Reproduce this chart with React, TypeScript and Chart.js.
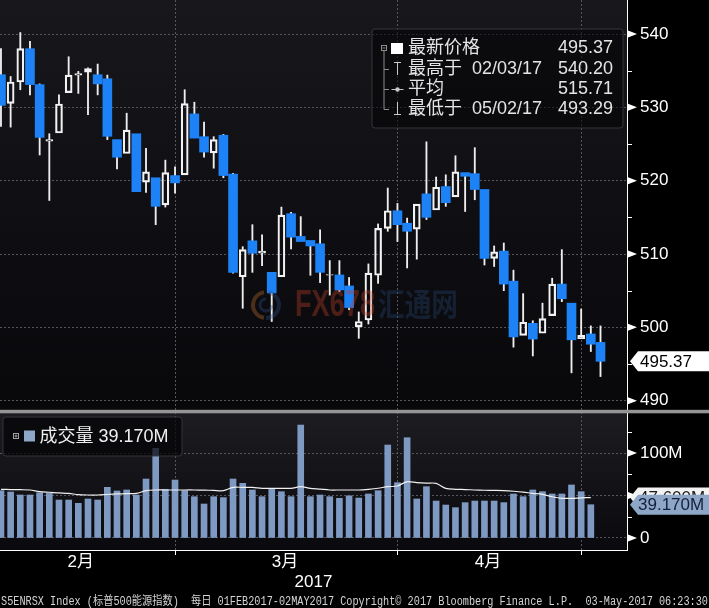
import React, { useEffect, useRef } from 'react';
import { Chart, registerables } from 'chart.js';

Chart.register(...registerables);

// ---------------- data ----------------
const dates = [
  '02/01', '02/02', '02/03', '02/06', '02/07', '02/08', '02/09', '02/10', '02/13', '02/14',
  '02/15', '02/16', '02/17', '02/21', '02/22', '02/23', '02/24', '02/27', '02/28',
  '03/01', '03/02', '03/03', '03/06', '03/07', '03/08', '03/09', '03/10', '03/13', '03/14',
  '03/15', '03/16', '03/17', '03/20', '03/21', '03/22', '03/23', '03/24', '03/27', '03/28',
  '03/29', '03/30', '03/31',
  '04/03', '04/04', '04/05', '04/06', '04/07', '04/10', '04/11', '04/12', '04/13', '04/17',
  '04/18', '04/19', '04/20', '04/21', '04/24', '04/25', '04/26', '04/27', '04/28',
  '05/01', '05/02',
];

const opens = [
  534.45, 530.55, 533.45, 538.0, 533.1, 525.4, 526.5, 532.0, 534.4, 534.8,
  534.45, 533.9, 525.6, 523.7, 526.4, 519.8, 520.4, 516.7, 520.7,
  520.8, 529.1, 526.0, 523.8, 526.2, 520.9, 506.9, 511.8, 510.1, 507.5,
  506.9, 515.5, 512.4, 511.85, 511.4, 507.1, 507.15, 505.65, 500.1, 501.0,
  507.1, 513.5, 515.9,
  514.2, 513.4, 518.2, 516.0, 519.2, 517.8, 521.1, 520.96, 518.8, 509.4,
  510.4, 506.3, 498.9, 500.55, 499.2, 501.6, 505.9, 503.3, 498.45,
  499.1, 497.95,
];
const highs = [
  538.0, 534.2, 540.2, 539.0, 533.2, 526.4, 531.7, 536.9, 534.9, 535.4,
  535.9, 534.4, 525.6, 529.2, 526.4, 524.4, 520.4, 522.8, 521.9,
  532.4, 530.7, 528.0, 526.0, 526.3, 521.0, 511.0, 514.0, 512.6, 507.5,
  516.4, 515.7, 515.1, 511.9, 513.3, 509.1, 509.1, 506.8, 502.1, 508.65,
  514.1, 519.0, 516.9,
  514.9, 516.8, 525.3, 520.5, 520.8, 523.4, 521.1, 524.5, 518.8, 511.1,
  511.5, 507.8, 504.6, 500.9, 503.3, 506.7, 510.6, 503.3, 502.5,
  500.2, 500.2,
];
const lows = [
  527.4, 527.3, 532.4, 531.7, 523.5, 517.3, 526.5, 532.0, 531.9, 529.0,
  531.7, 525.6, 521.6, 523.7, 518.5, 518.4, 514.0, 516.4, 518.3,
  520.8, 525.8, 523.2, 521.7, 520.4, 507.4, 502.6, 507.5, 508.4, 500.8,
  506.9, 510.7, 511.7, 507.1, 506.1, 504.4, 504.9, 502.4, 498.5, 500.45,
  506.0, 513.1, 511.7,
  508.1, 509.3, 514.7, 516.0, 516.5, 517.8, 515.8, 517.4, 508.5, 508.3,
  505.0, 497.3, 498.9, 496.1, 499.2, 501.6, 503.5, 493.8, 498.45,
  496.7, 493.29,
];
const closes = [
  530.27, 533.45, 538.0, 533.1, 525.9, 525.6, 530.45, 534.4, 534.6, 535.3,
  533.2, 526.05, 523.2, 526.9, 518.5, 521.2, 516.5, 521.1, 519.7,
  530.5, 525.8, 523.9, 525.6, 520.7, 507.5, 510.6, 510.1, 510.4, 504.7,
  515.3, 512.3, 511.7, 511.1, 507.5, 507.2, 505.1, 502.7, 500.8, 507.4,
  513.5, 515.9, 514.0,
  513.1, 516.8, 515.0, 519.1, 517.0, 521.2, 520.6, 518.8, 509.4, 510.3,
  505.9, 498.7, 500.7, 498.4, 501.2, 505.9, 503.9, 498.3, 498.9,
  497.7, 495.37,
];

// volume in millions (no bar drawn yet for the last session)
const volumes = [
  55.7, 54.1, 50.6, 50.6, 53.3, 52.5, 44.7, 44.7, 40.8, 45.9,
  44.7, 59.6, 55.3, 56.5, 50.6, 69.4, 105.5, 57.3, 68.2,
  55.7, 48.6, 40.0, 48.6, 47.5, 69.4, 64.3, 56.5, 48.6, 57.6,
  54.5, 48.6, 132.9, 48.6, 50.6, 48.6, 46.7, 49.6, 47.0, 51.8,
  55.7, 109.4, 65.1,
  118.0, 45.9, 60.4, 43.5, 38.8, 35.7, 41.6, 43.5, 43.5, 43.5,
  41.6, 51.8, 48.6, 56.5, 54.5, 51.8, 51.8, 62.4, 54.5,
  39.17,
];
const volumeAvg = [
  57.3, 57.0, 56.8, 56.5, 54.5, 53.8, 53.0, 52.5, 51.0, 50.6,
  50.6, 51.2, 51.8, 52.2, 52.5, 55.7, 56.5, 56.5, 56.5,
  56.5, 56.5, 56.3, 56.0, 55.7, 59.6, 59.6, 59.6, 58.4, 58.4,
  58.4, 58.4, 60.4, 58.4, 57.5, 56.5, 56.5, 56.5, 56.5, 57.3,
  58.5, 60.4, 61.2,
  66.3, 65.1, 64.5, 64.3, 58.4, 57.3, 57.0, 56.5, 56.2, 56.0,
  55.7, 55.0, 54.0, 52.5, 51.4, 48.5, 46.7, 46.7, 47.2,
  47.6,
];

const priceTicks = [490, 500, 510, 520, 530, 540];
const priceMinorTicks = [495, 505, 515, 525, 535];
const volTicks = [0, 50, 100];
const volMinorTicks = [25, 75, 125];
const volTickLabels = ['0', '', '100M'];

const monthEndIdx = [18, 41, 60];
const monthLabels = ['2月', '3月', '4月'];
const monthLabelPos = [8.26, 29.37, 50.37];
const yearLabel = '2017';
const yearLabelPos = 32.32;

const LAST = 495.37;
const HIGH = 540.2;
const HIGH_DATE = '02/03/17';
const AVG = 515.71;
const LOW = 493.29;
const LOW_DATE = '05/02/17';
const LAST_VOL = 39.17;
const LAST_VOL_AVG = 47.6;

const FOOTER =
  'S5ENRSX Index (标普500能源指数)  每日 01FEB2017-02MAY2017 Copyright© 2017 Bloomberg Finance L.P.  03-May-2017 06:23:30';

// ---------------- styles ----------------
const FONT = '"Liberation Sans", "Noto Sans CJK SC", sans-serif';
const BLUE = '#1c82f5';
const VOL_COLOR = '#7e99c2';
const GRID = '#56565c';

const idx = dates.map((_, i) => i);
const upBodies = idx
  .filter((i) => closes[i] >= opens[i])
  .map((i) => ({ x: i, y: [opens[i], closes[i]] }));
const downBodies = idx
  .filter((i) => closes[i] < opens[i])
  .map((i) => ({ x: i, y: [closes[i], opens[i]] }));
const upperWicks = idx
  .filter((i) => highs[i] > Math.max(opens[i], closes[i]) + 0.05)
  .map((i) => ({ x: i, y: [Math.max(opens[i], closes[i]), highs[i]] }));
const lowerWicks = idx
  .filter((i) => lows[i] < Math.min(opens[i], closes[i]) - 0.05)
  .map((i) => ({ x: i, y: [lows[i], Math.min(opens[i], closes[i])] }));
const volBars = volumes.map((v, i) => ({ x: i, y: v }));
const volAvgPts = volumeAvg.map((v, i) => ({ x: i, y: v }));

const isMonthEnd = (v: any) => monthEndIdx.some((m) => Math.abs(m - v) < 1e-6);

function tag(ctx: any, xLeft: number, y: number, text: string, bg: string, fg: string, textX: number) {
  ctx.beginPath();
  ctx.moveTo(xLeft + 3, y);
  ctx.lineTo(xLeft + 11, y - 10);
  ctx.lineTo(709, y - 10);
  ctx.lineTo(709, y + 10);
  ctx.lineTo(xLeft + 11, y + 10);
  ctx.closePath();
  ctx.fillStyle = bg;
  ctx.fill();
  ctx.fillStyle = fg;
  ctx.font = `17px ${FONT}`;
  ctx.textAlign = 'left';
  ctx.textBaseline = 'middle';
  ctx.fillText(text, textX, y + 0.5);
}

function roundRect(ctx: any, x: number, y: number, w: number, h: number, r: number) {
  ctx.beginPath();
  ctx.moveTo(x + r, y);
  ctx.lineTo(x + w - r, y);
  ctx.quadraticCurveTo(x + w, y, x + w, y + r);
  ctx.lineTo(x + w, y + h - r);
  ctx.quadraticCurveTo(x + w, y + h, x + w - r, y + h);
  ctx.lineTo(x + r, y + h);
  ctx.quadraticCurveTo(x, y + h, x, y + h - r);
  ctx.lineTo(x, y + r);
  ctx.quadraticCurveTo(x, y, x + r, y);
  ctx.closePath();
}

const decorPlugin = {
  id: 'decor',
  beforeDraw(chart: any) {
    const { ctx, chartArea: ca, scales } = chart;
    const yp = scales.yPrice;
    const yv = scales.yVol;
    ctx.save();
    ctx.fillStyle = '#000';
    ctx.fillRect(0, 0, chart.width, chart.height);
    let g = ctx.createLinearGradient(0, yp.top, 0, yp.bottom);
    g.addColorStop(0, '#17171c');
    g.addColorStop(1, '#08080b');
    ctx.fillStyle = g;
    ctx.fillRect(ca.left, yp.top, ca.right - ca.left, yp.bottom - yp.top);
    g = ctx.createLinearGradient(0, yv.top, 0, yv.bottom);
    g.addColorStop(0, '#1c1c21');
    g.addColorStop(1, '#0a0a0e');
    ctx.fillStyle = g;
    ctx.fillRect(ca.left, yv.top, ca.right - ca.left, yv.bottom - yv.top);
    ctx.restore();
  },
  beforeDatasetsDraw(chart: any) {
    const { ctx } = chart;
    ctx.save();
    roundRect(ctx, 372, 29, 251, 99, 3);
    ctx.fillStyle = 'rgba(3,3,6,0.55)';
    ctx.fill();
    ctx.strokeStyle = 'rgba(55,55,62,0.9)';
    ctx.lineWidth = 1;
    ctx.stroke();
    ctx.restore();
  },
  afterDatasetsDraw(chart: any) {
    const { ctx } = chart;
    ctx.save();
    // watermark
    ctx.globalAlpha = 0.36;
    ctx.lineWidth = 4;
    ctx.strokeStyle = '#c0702a';
    ctx.beginPath();
    ctx.arc(266, 305, 13, 0.55 * Math.PI, 1.45 * Math.PI);
    ctx.stroke();
    ctx.strokeStyle = '#2c4c88';
    ctx.beginPath();
    ctx.arc(266, 305, 13, -0.45 * Math.PI, 0.5 * Math.PI);
    ctx.stroke();
    ctx.lineWidth = 3;
    ctx.beginPath();
    ctx.arc(266, 305, 6, 0, 1.5 * Math.PI);
    ctx.stroke();
    const tg = ctx.createLinearGradient(295, 0, 376, 0);
    tg.addColorStop(0, '#b28036');
    tg.addColorStop(0.6, '#b28036');
    tg.addColorStop(0.62, '#c23e26');
    tg.addColorStop(1, '#c23e26');
    ctx.fillStyle = tg;
    ctx.font = `bold 36px ${FONT}`;
    ctx.textBaseline = 'middle';
    ctx.textAlign = 'left';
    ctx.fillText('FX678', 295, 306, 80);
    ctx.globalAlpha = 0.3;
    ctx.fillStyle = '#2c4e86';
    ctx.font = 'bold 32px "Noto Sans CJK SC", sans-serif';
    ctx.fillText('汇通网', 378, 304, 80);
    ctx.globalAlpha = 1;

    // volume legend
    roundRect(ctx, 3, 417, 179, 39, 3);
    ctx.fillStyle = 'rgba(4,4,7,0.72)';
    ctx.fill();
    ctx.strokeStyle = 'rgba(55,55,62,0.9)';
    ctx.lineWidth = 1;
    ctx.stroke();
    ctx.strokeStyle = '#a0a0a0';
    ctx.strokeRect(13.5, 433.5, 5, 5);
    ctx.beginPath();
    ctx.moveTo(14.5, 436);
    ctx.lineTo(17.5, 436);
    ctx.moveTo(16, 434.5);
    ctx.lineTo(16, 437.5);
    ctx.stroke();
    ctx.fillStyle = '#8ea6c8';
    ctx.fillRect(24, 430.5, 11, 11);
    ctx.fillStyle = '#f0f0f0';
    ctx.font = `18px ${FONT}`;
    ctx.textBaseline = 'middle';
    ctx.fillText(`成交量 ${LAST_VOL.toFixed(3)}M`, 39.5, 437);
    ctx.restore();
  },
  afterDraw(chart: any) {
    const { ctx, scales } = chart;
    const yp = scales.yPrice;
    const yv = scales.yVol;
    const ax = yp.left;
    ctx.save();
    // axis arrows and minor ticks
    ctx.fillStyle = '#fff';
    const tri = (y: number) => {
      ctx.beginPath();
      ctx.moveTo(ax + 1, y - 3.5);
      ctx.lineTo(ax + 10, y);
      ctx.lineTo(ax + 1, y + 3.5);
      ctx.closePath();
      ctx.fill();
    };
    priceTicks.forEach((v) => tri(yp.getPixelForValue(v)));
    volTicks.forEach((v) => tri(yv.getPixelForValue(v)));
    ctx.strokeStyle = '#fff';
    ctx.lineWidth = 1;
    ctx.beginPath();
    priceMinorTicks.forEach((v) => {
      const y = Math.round(yp.getPixelForValue(v)) + 0.5;
      ctx.moveTo(ax, y);
      ctx.lineTo(ax + 5, y);
    });
    volMinorTicks.forEach((v) => {
      const y = Math.round(yv.getPixelForValue(v)) + 0.5;
      ctx.moveTo(ax, y);
      ctx.lineTo(ax + 5, y);
    });
    ctx.stroke();

    // panel separator
    ctx.fillStyle = '#959595';
    ctx.fillRect(0, yp.bottom - 2.2, chart.width, 3.5);

    // price legend contents
    ctx.strokeStyle = '#8c8c8c';
    ctx.lineWidth = 1;
    ctx.strokeRect(381.5, 45.5, 5, 5);
    ctx.beginPath();
    ctx.moveTo(382.5, 48);
    ctx.lineTo(385.5, 48);
    ctx.moveTo(384, 51);
    ctx.lineTo(384, 109.5);
    [69.5, 89.5, 109.5].forEach((y) => {
      ctx.moveTo(384, y);
      ctx.lineTo(389, y);
    });
    ctx.stroke();
    ctx.fillStyle = '#ffffff';
    ctx.fillRect(391, 43, 12, 11);
    ctx.strokeStyle = '#c8c8c8';
    ctx.beginPath();
    ctx.moveTo(394, 62.5);
    ctx.lineTo(401, 62.5);
    ctx.moveTo(397.5, 62.5);
    ctx.lineTo(397.5, 75);
    ctx.moveTo(391.5, 89.5);
    ctx.lineTo(403.5, 89.5);
    ctx.moveTo(397.5, 102);
    ctx.lineTo(397.5, 114.5);
    ctx.moveTo(394, 114.5);
    ctx.lineTo(401, 114.5);
    ctx.stroke();
    ctx.fillStyle = '#c8c8c8';
    ctx.beginPath();
    ctx.arc(397.5, 89.5, 2.2, 0, Math.PI * 2);
    ctx.fill();

    ctx.font = `18px ${FONT}`;
    ctx.fillStyle = '#e4e4e4';
    ctx.textBaseline = 'middle';
    const rows: [string, string, string, number][] = [
      ['最新价格', '', LAST.toFixed(2), 48.5],
      ['最高于', HIGH_DATE, HIGH.toFixed(2), 69.5],
      ['平均', '', AVG.toFixed(2), 89.5],
      ['最低于', LOW_DATE, LOW.toFixed(2), 109],
    ];
    rows.forEach(([label, date, val, y]) => {
      ctx.textAlign = 'left';
      ctx.fillText(label, 408, y);
      if (date) ctx.fillText(date, 472, y);
      ctx.textAlign = 'right';
      ctx.fillText(val, 613, y);
    });

    // right-hand value tags
    tag(ctx, ax, yp.getPixelForValue(LAST), LAST.toFixed(2), '#ffffff', '#000000', 640);
    tag(ctx, ax, yv.getPixelForValue(LAST_VOL_AVG), `${LAST_VOL_AVG.toFixed(3)}M`, '#f2f2f2', '#1a1a1a', 639);
    tag(ctx, ax, yv.getPixelForValue(LAST_VOL), `${LAST_VOL.toFixed(3)}M`, '#8ea6c8', '#13213a', 638);

    // footer
    ctx.fillStyle = '#d4d4d4';
    ctx.font = '12px "Liberation Mono", "Noto Sans CJK SC", monospace';
    ctx.textAlign = 'left';
    ctx.textBaseline = 'alphabetic';
    ctx.fillText(FOOTER, 1, 604.5, 707);
    ctx.restore();
  },
};

export default function App() {
  const ref = useRef<HTMLCanvasElement>(null);
  useEffect(() => {
    const canvas = ref.current;
    if (!canvas) return;
    const chart = new Chart(canvas, {
      type: 'bar',
      data: {
        datasets: [
          {
            label: 'down',
            data: downBodies as any,
            xAxisID: 'x',
            yAxisID: 'yPrice',
            backgroundColor: BLUE,
            borderWidth: 0,
            barThickness: 9,
            grouped: false,
          } as any,
          {
            label: 'up',
            data: upBodies as any,
            xAxisID: 'x',
            yAxisID: 'yPrice',
            backgroundColor: 'rgba(0,0,0,0)',
            borderColor: '#f2f2f2',
            borderWidth: 1.5,
            borderSkipped: false,
            barThickness: 7,
            grouped: false,
          } as any,
          {
            label: 'upperWick',
            data: upperWicks as any,
            xAxisID: 'x',
            yAxisID: 'yPrice',
            backgroundColor: '#eeeeee',
            borderWidth: 0,
            barThickness: 1.2,
            grouped: false,
          } as any,
          {
            label: 'lowerWick',
            data: lowerWicks as any,
            xAxisID: 'x',
            yAxisID: 'yPrice',
            backgroundColor: '#eeeeee',
            borderWidth: 0,
            barThickness: 1.2,
            grouped: false,
          } as any,
          {
            type: 'line',
            label: 'volAvg',
            data: volAvgPts as any,
            xAxisID: 'x',
            yAxisID: 'yVol',
            borderColor: '#f0f0f0',
            borderWidth: 1.2,
            pointRadius: 0,
            tension: 0.3,
            fill: false,
          } as any,
          {
            label: 'volume',
            data: volBars as any,
            xAxisID: 'x',
            yAxisID: 'yVol',
            backgroundColor: VOL_COLOR,
            borderWidth: 0,
            barThickness: 6,
            grouped: false,
          } as any,
        ],
      },
      options: {
        responsive: false,
        maintainAspectRatio: false,
        devicePixelRatio: 1,
        animation: false,
        layout: { padding: 0 },
        plugins: { legend: { display: false }, tooltip: { enabled: false } },
        scales: {
          x: {
            type: 'linear',
            position: 'bottom',
            min: -0.1,
            max: 64.74,
            offset: false,
            bounds: 'data',
            afterBuildTicks: (s: any) => {
              s.ticks = [...monthEndIdx, ...monthLabelPos, yearLabelPos]
                .sort((a, b) => a - b)
                .map((v) => ({ value: v }));
            },
            afterFit: (s: any) => {
              s.height = 58;
              s.paddingLeft = 0;
              s.paddingRight = 0;
            },
            ticks: {
              autoSkip: false,
              maxRotation: 0,
              minRotation: 0,
              padding: -3,
              color: '#ffffff',
              font: { family: FONT, size: 17, lineHeight: 1.2 },
              callback: (v: any) => {
                const k = monthLabelPos.findIndex((p) => Math.abs(p - v) < 1e-6);
                if (k >= 0) return monthLabels[k];
                if (Math.abs(v - yearLabelPos) < 1e-6) return ['', yearLabel];
                return '';
              },
            },
            grid: {
              offset: false,
              drawTicks: true,
              tickLength: 5,
              lineWidth: 1,
              color: (c: any) => (c.tick && isMonthEnd(c.tick.value) ? GRID : 'rgba(0,0,0,0)'),
              tickColor: (c: any) => (c.tick && isMonthEnd(c.tick.value) ? '#ffffff' : 'rgba(0,0,0,0)'),
            },
            border: { display: true, color: '#ffffff', width: 1, dash: [2, 2] },
          } as any,
          yPrice: {
            type: 'linear',
            position: 'right',
            stack: 'panels',
            stackWeight: 412,
            min: 488.459,
            max: 544.636,
            bounds: 'data',
            afterBuildTicks: (s: any) => {
              s.ticks = priceTicks.map((v) => ({ value: v }));
            },
            afterFit: (s: any) => {
              s.width = 82;
              s.paddingTop = 0;
              s.paddingBottom = 0;
            },
            ticks: {
              autoSkip: false,
              padding: 13,
              color: '#ffffff',
              font: { family: FONT, size: 17 },
              callback: (v: any) => String(v),
            },
            grid: { color: GRID, drawTicks: false, lineWidth: 1 },
            border: { display: true, color: '#ffffff', width: 1, dash: [2, 2] },
          } as any,
          yVol: {
            type: 'linear',
            position: 'right',
            stack: 'panels',
            stackWeight: 138,
            min: -14.12,
            max: 148.24,
            bounds: 'data',
            afterBuildTicks: (s: any) => {
              s.ticks = volTicks.map((v) => ({ value: v }));
            },
            afterFit: (s: any) => {
              s.width = 82;
              s.paddingTop = 0;
              s.paddingBottom = 0;
            },
            ticks: {
              autoSkip: false,
              padding: 13,
              color: '#ffffff',
              font: { family: FONT, size: 17 },
              callback: (v: any) => {
                const k = volTicks.indexOf(v);
                return k >= 0 ? volTickLabels[k] : '';
              },
            },
            grid: { color: GRID, drawTicks: false, lineWidth: 1 },
            border: { display: true, color: '#ffffff', width: 1, dash: [2, 2] },
          } as any,
        },
      } as any,
      plugins: [decorPlugin],
    });
    return () => chart.destroy();
  }, []);

  return (
    <div style={{ position: 'fixed', left: 0, top: 0, width: 709, height: 608, background: '#000' }}>
      <canvas ref={ref} width={709} height={608} style={{ display: 'block', width: 709, height: 608 }} />
    </div>
  );
}
